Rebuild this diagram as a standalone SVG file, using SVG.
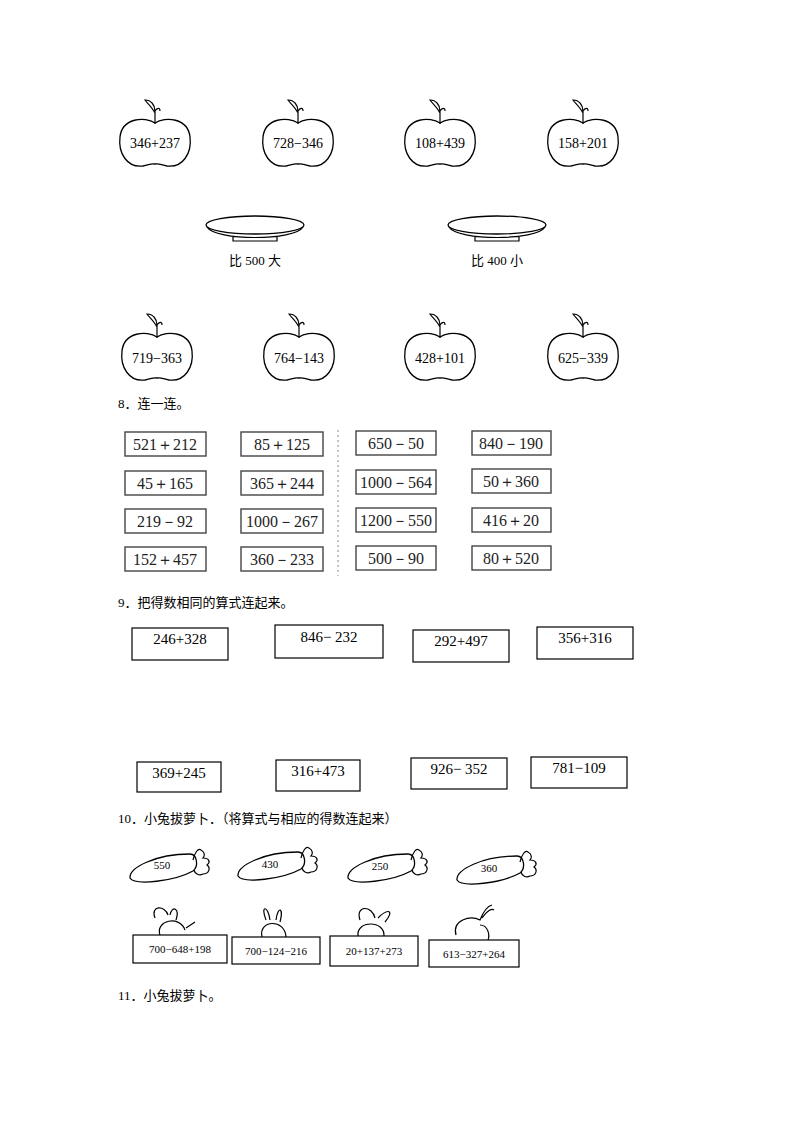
<svg xmlns="http://www.w3.org/2000/svg" width="794" height="1123" viewBox="0 0 794 1123">
<style>
.o{fill:#fff;stroke:#000;stroke-width:1.3}
.l{fill:none;stroke:#000;stroke-width:1.2}
.t{font-family:"Liberation Serif",serif;font-size:14px;text-anchor:middle}
.b{font-family:"Liberation Serif",serif;font-size:15px;text-anchor:middle}
.s{font-family:"Liberation Serif","Noto Sans CJK SC",serif;font-size:13px}
.c{font-family:"Liberation Serif",serif;font-size:11px;text-anchor:middle}
.bx{fill:#fff;stroke:#000;stroke-width:1.2}
.gb{fill:#fff;stroke:#444;stroke-width:1.4}
.g{font-family:"Liberation Serif",serif;font-size:16px;text-anchor:middle;fill:#222}
</style>
<defs>
<g id="apple">
<path class="o" d="M0,-20 C-10,-27 -33,-25 -35,-6 C-37,10 -28,25 -12,23 C-6,22 -4,20 0,21 C4,20 6,22 12,23 C28,25 37,10 35,-6 C33,-25 10,-27 0,-20 Z"/>
<path class="l" d="M0,-19 L0,-33 M0,-30 C-3,-36 -8,-40 -10,-43 C-4,-43 0,-38 0,-32 M0,-32 C2,-35 5,-36 5,-32"/>
</g>
<g id="plate">
<ellipse class="o" cx="0" cy="0" rx="49" ry="9"/>
<path class="l" d="M-48,2 C-40,16 40,16 48,2 M-22,12 L-22,16 L22,16 L22,12"/>
</g>
<g id="carrot">
<path class="o" d="M-35,12 C-36,2 -10,-12 25,-12 C32,-12 34,0 28,5 C10,15 -30,20 -35,12 Z"/>
<path class="l" d="M28,-6 C30,-14 33,-18 36,-16 C40,-14 40,-10 38,-8 C44,-8 46,-4 42,-1 C46,2 44,8 38,8 C34,10 30,8 29,4"/>
</g>
</defs>
<g id="apples-top">
<use href="#apple" x="155" y="143"/><text class="t" x="155" y="148">346+237</text>
<use href="#apple" x="298" y="143"/><text class="t" x="298" y="148">728−346</text>
<use href="#apple" x="440" y="143"/><text class="t" x="440" y="148">108+439</text>
<use href="#apple" x="583" y="143"/><text class="t" x="583" y="148">158+201</text>
</g>
<g id="plates">
<use href="#plate" x="255" y="225"/><text class="s" x="255" y="265" text-anchor="middle">比 500 大</text>
<use href="#plate" x="497" y="225"/><text class="s" x="497" y="265" text-anchor="middle">比 400 小</text>
</g>
<g id="apples-bottom">
<use href="#apple" x="157" y="357"/><text class="t" x="157" y="363">719−363</text>
<use href="#apple" x="299" y="357"/><text class="t" x="299" y="363">764−143</text>
<use href="#apple" x="440" y="357"/><text class="t" x="440" y="363">428+101</text>
<use href="#apple" x="583" y="357"/><text class="t" x="583" y="363">625−339</text>
</g>
<text class="s" x="118" y="408">8．连一连。</text>
<g id="q8">
<line x1="338" y1="430" x2="338" y2="576" stroke="#888" stroke-dasharray="2,3"/>
<rect class="gb" x="125" y="432" width="81" height="24"/><text class="g" x="165" y="450">521＋212</text>
<rect class="gb" x="241" y="432" width="82" height="24"/><text class="g" x="282" y="450">85＋125</text>
<rect class="gb" x="356" y="431" width="80" height="24"/><text class="g" x="396" y="449">650－50</text>
<rect class="gb" x="472" y="431" width="79" height="24"/><text class="g" x="511" y="449">840－190</text>
<rect class="gb" x="125" y="471" width="81" height="24"/><text class="g" x="165" y="489">45＋165</text>
<rect class="gb" x="241" y="471" width="82" height="24"/><text class="g" x="282" y="489">365＋244</text>
<rect class="gb" x="356" y="470" width="80" height="24"/><text class="g" x="396" y="488">1000－564</text>
<rect class="gb" x="472" y="469" width="79" height="24"/><text class="g" x="511" y="487">50＋360</text>
<rect class="gb" x="125" y="509" width="81" height="24"/><text class="g" x="165" y="527">219－92</text>
<rect class="gb" x="241" y="509" width="82" height="24"/><text class="g" x="282" y="527">1000－267</text>
<rect class="gb" x="356" y="508" width="80" height="24"/><text class="g" x="396" y="526">1200－550</text>
<rect class="gb" x="472" y="508" width="79" height="24"/><text class="g" x="511" y="526">416＋20</text>
<rect class="gb" x="125" y="547" width="81" height="24"/><text class="g" x="165" y="565">152＋457</text>
<rect class="gb" x="241" y="547" width="82" height="24"/><text class="g" x="282" y="565">360－233</text>
<rect class="gb" x="356" y="546" width="80" height="24"/><text class="g" x="396" y="564">500－90</text>
<rect class="gb" x="472" y="546" width="79" height="24"/><text class="g" x="511" y="564">80＋520</text>
</g>
<text class="s" x="118" y="607">9．把得数相同的算式连起来。</text>
<g id="q9">
<rect class="bx" x="132" y="628" width="96" height="32"/><text class="b" x="180" y="644">246+328</text>
<rect class="bx" x="275" y="625" width="108" height="33"/><text class="b" x="329" y="642">846− 232</text>
<rect class="bx" x="413" y="630" width="96" height="32"/><text class="b" x="461" y="646">292+497</text>
<rect class="bx" x="537" y="627" width="96" height="32"/><text class="b" x="585" y="643">356+316</text>
<rect class="bx" x="137" y="762" width="84" height="30"/><text class="b" x="179" y="778">369+245</text>
<rect class="bx" x="276" y="760" width="84" height="31"/><text class="b" x="318" y="776">316+473</text>
<rect class="bx" x="411" y="758" width="96" height="31"/><text class="b" x="459" y="774">926− 352</text>
<rect class="bx" x="531" y="757" width="96" height="31"/><text class="b" x="579" y="773">781−109</text>
</g>
<text class="s" x="118" y="823">10．小兔拔萝卜．（将算式与相应的得数连起来）</text>
<g id="carrots">
<use href="#carrot" x="165" y="866"/><text class="c" x="162" y="869">550</text>
<use href="#carrot" x="273" y="864"/><text class="c" x="270" y="868">430</text>
<use href="#carrot" x="383" y="866"/><text class="c" x="380" y="870">250</text>
<use href="#carrot" x="492" y="868"/><text class="c" x="489" y="872">360</text>
</g>
<g id="rabbits">
<path class="l" d="M155,918 C150,905 165,905 168,915 M170,915 C172,905 180,908 176,920 M160,935 C155,920 180,915 185,930 M186,928 L195,922"/>
<path class="l" d="M266,920 C260,905 268,905 270,920 M276,920 C278,905 284,908 280,922 M262,937 C258,920 285,918 286,937"/>
<path class="l" d="M360,920 C355,905 372,905 375,918 M378,918 C388,908 395,910 385,922 M358,936 C356,920 385,920 384,936"/>
<path class="l" d="M456,935 C452,920 470,915 480,920 C484,910 488,906 492,905 M482,918 C488,910 492,908 494,910 M480,925 C488,925 490,935 488,940"/>
<rect class="bx" x="133" y="935" width="94" height="28"/><text class="c" x="180" y="953">700−648+198</text>
<rect class="bx" x="232" y="937" width="88" height="27"/><text class="c" x="276" y="955">700−124−216</text>
<rect class="bx" x="330" y="936" width="88" height="30"/><text class="c" x="374" y="955">20+137+273</text>
<rect class="bx" x="429" y="940" width="90" height="27"/><text class="c" x="474" y="958">613−327+264</text>
</g>
<text class="s" x="118" y="1000">11．小兔拔萝卜。</text>
</svg>
